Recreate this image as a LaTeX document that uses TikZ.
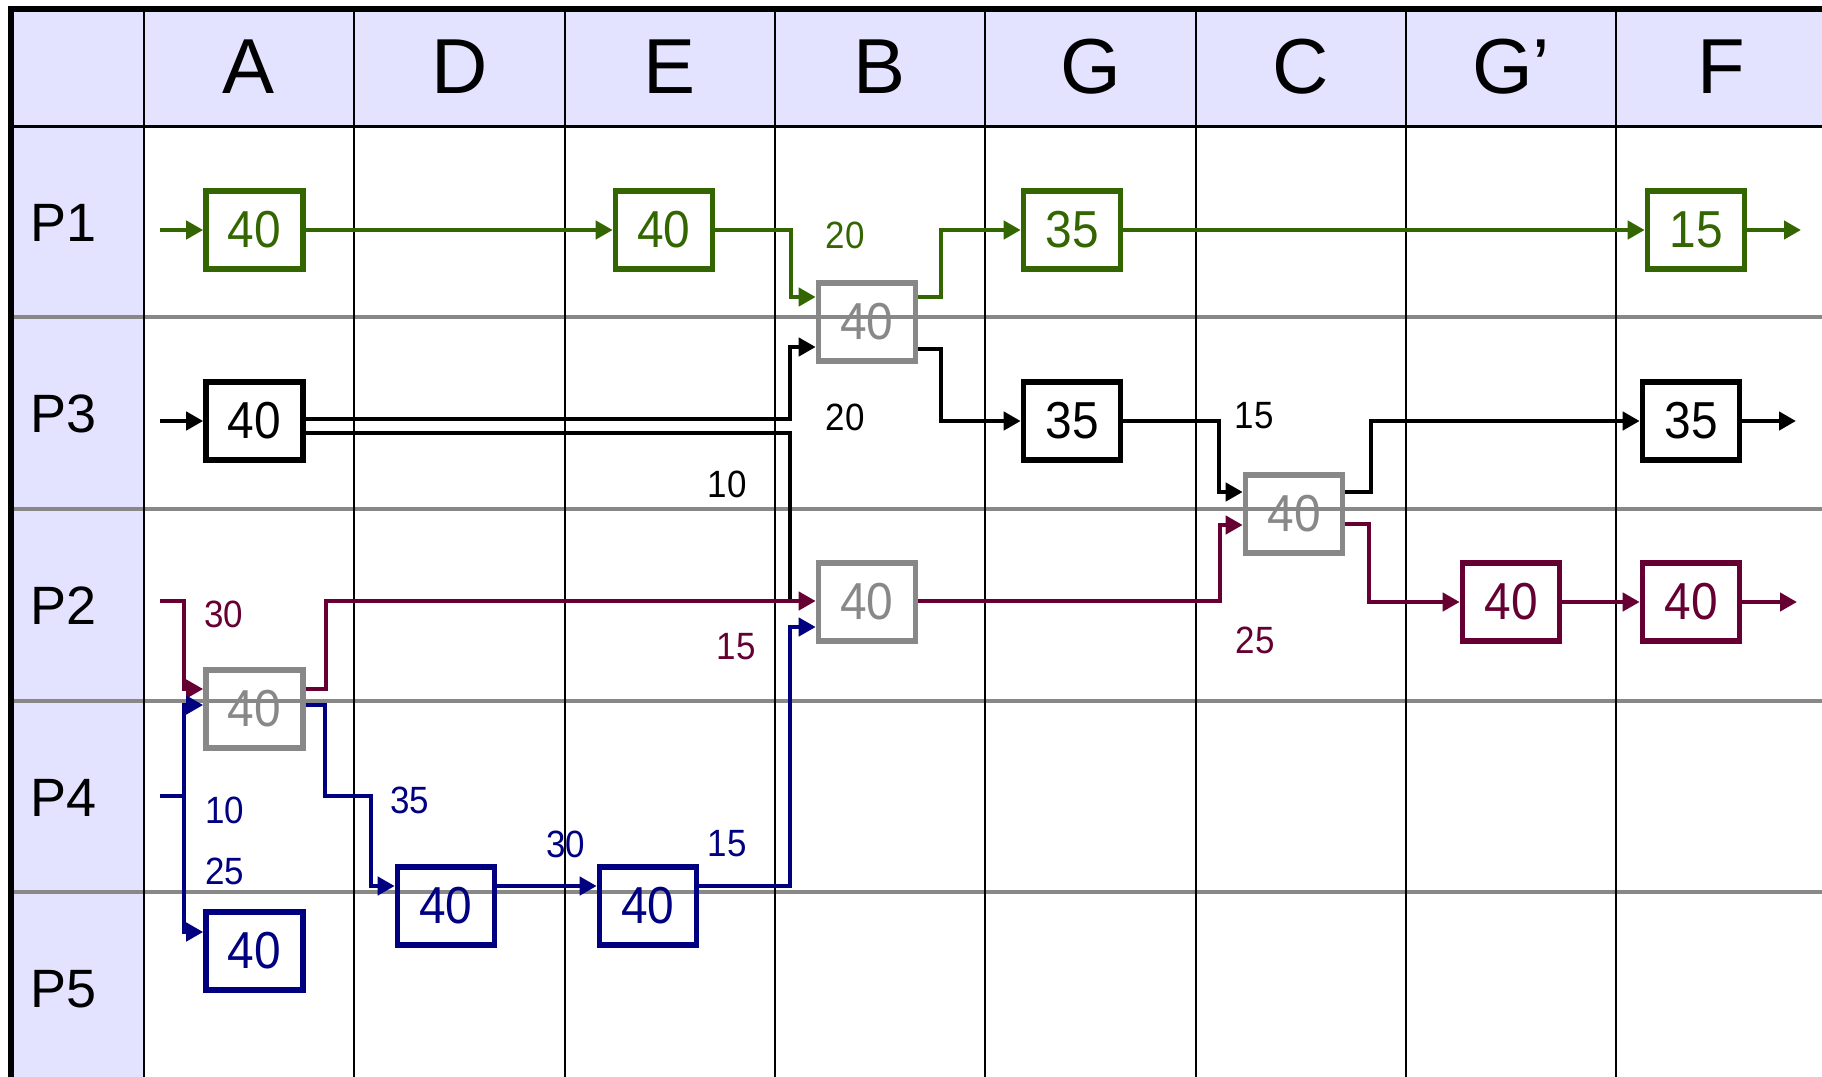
\documentclass[tikz,border=0pt]{standalone}
\usepackage{fontspec}
\setmainfont{Liberation Sans}
\newfontfamily\boxfont[FakeStretch=0.92]{Liberation Sans}
\usetikzlibrary{arrows.meta}
\definecolor{hdr}{HTML}{E3E3FF}
\definecolor{grn}{HTML}{336600}
\definecolor{mrn}{HTML}{660033}
\definecolor{blu}{HTML}{000080}
\definecolor{gry}{HTML}{888888}
\begin{document}
\begin{tikzpicture}[x=0.5pt,y=-0.5pt,
  box/.style={draw, line width=2.8pt, minimum width=48.5pt, minimum height=39pt, inner sep=0pt, font=\boxfont\fontsize{26}{30}\selectfont},
  gbox/.style={box, draw=grn, text=grn},
  kbox/.style={box, draw=black, text=black},
  mbox/.style={box, draw=mrn, text=mrn},
  bbox/.style={box, draw=blu, text=blu},
  xbox/.style={box, draw=gry, text=gry},
  conn/.style={line width=2.4pt},
  arr/.style={conn, -{Triangle[length=8.5pt,width=9pt]}},
  lbl/.style={font=\boxfont\fontsize{19}{23}\selectfont, inner sep=0pt},
  hd/.style={font=\fontsize{39}{45}\selectfont, inner sep=0pt},
  rl/.style={font=\fontsize{27}{31}\selectfont, inner sep=0pt, anchor=west},
]
\useasboundingbox (0,0) rectangle (1822,1077);
% backgrounds
\fill[hdr] (11,9) rectangle (1822,126);
\fill[hdr] (11,126) rectangle (144,1077);
% row lines (gray)
\foreach \yy in {317,509,701,892} \draw[gry, line width=1.6pt] (11,\yy) -- (1822,\yy);
% column lines
\foreach \xx in {144,354,565,775,985,1196,1406,1616} \draw[black, line width=1.2pt] (\xx,9) -- (\xx,1077);
% header bottom line
\draw[black, line width=1.5pt] (11,126) -- (1822,126);
% outer borders
\draw[black, line width=3pt] (8,9) -- (1822,9);
\draw[black, line width=3pt] (11,7) -- (11,1077);
% headers
\node[hd] (hA) at (249,67) {A};
\node[hd] (hD) at (459.5,67) {D};
\node[hd] (hE) at (670,67) {E};
\node[hd] (hB) at (880,67) {B};
\node[hd] (hG) at (1090.5,67) {G};
\node[hd] (hC) at (1301,67) {C};
\node[hd] (hGp) at (1511,67) {G’};
\node[hd] (hF) at (1721,67) {F};
% row labels
\node[rl] (r1) at (30,223) {P1};
\node[rl] (r3) at (30,414) {P3};
\node[rl] (r2) at (30,606) {P2};
\node[rl] (r4) at (30,798) {P4};
\node[rl] (r5) at (30,989) {P5};
% boxes
\node[gbox] (b1) at (254.5,230) {40};
\node[gbox] (b2) at (664,230) {40};
\node[xbox] (b3) at (867,322) {40};
\node[gbox] (b4) at (1072,230) {35};
\node[gbox] (b5) at (1696,230) {15};
\node[kbox] (b6) at (254.5,421) {40};
\node[kbox] (b7) at (1072,421) {35};
\node[xbox] (b8) at (1294,514) {40};
\node[kbox] (b9) at (1691,421) {35};
\node[xbox] (b10) at (867,602) {40};
\node[mbox] (b11) at (1511,602) {40};
\node[mbox] (b12) at (1691,602) {40};
\node[xbox] (b13) at (254.5,709) {40};
\node[bbox] (b14) at (446,906) {40};
\node[bbox] (b15) at (648,906) {40};
\node[bbox] (b16) at (254.5,951) {40};
% free ends
\coordinate (inG) at (160,230);
\coordinate (outG) at (1801,230);
\coordinate (inK) at (160,421);
\coordinate (outK) at (1796,421);
\coordinate (inM) at (160,601);
\coordinate (outM) at (1797,602);
\coordinate (inB) at (160,796);
\coordinate (jB) at (184,796);
% green
\draw[grn, arr] (inG) -- (b1.west);
\draw[grn, arr] (b1.east) -- (b2.west);
\draw[grn, arr] (b2.east) -- (791,230) -- (791,297) -- (b3.west |- 0,297);
\draw[grn, arr] (b3.east |- 0,297) -- (941,297) -- (941,230) -- (b4.west);
\draw[grn, arr] (b4.east) -- (b5.west);
\draw[grn, arr] (b5.east) -- (outG);
% black
\draw[black, arr] (inK) -- (b6.west);
\draw[black, arr] (b6.east |- 0,419) -- (790,419) -- (790,347) -- (b3.west |- 0,347);
\draw[black, conn] (b6.east |- 0,433) -- (790,433) -- (790,601);
\draw[black, arr] (b3.east |- 0,349) -- (941,349) -- (941,421) -- (b7.west);
\draw[black, arr] (b7.east) -- (1219,421) -- (1219,492) -- (b8.west |- 0,492);
\draw[black, arr] (b8.east |- 0,492) -- (1371,492) -- (1371,421) -- (b9.west);
\draw[black, arr] (b9.east) -- (outK);
% maroon
\draw[mrn, arr] (inM) -- (184,601) -- (184,689) -- (b13.west |- 0,689);
\draw[mrn, arr] (b13.east |- 0,689) -- (326,689) -- (326,601) -- (b10.west |- 0,601);
\draw[mrn, arr] (b10.east |- 0,601) -- (1220,601) -- (1220,525) -- (b8.west |- 0,525);
\draw[mrn, arr] (b8.east |- 0,524) -- (1369,524) -- (1369,602) -- (b11.west);
\draw[mrn, arr] (b11.east) -- (b12.west);
\draw[mrn, arr] (b12.east) -- (outM);
% blue
\draw[blu, conn] (inB) -- (jB);
\draw[blu, arr] (jB) |- (b13.west |- 0,705);
\draw[blu, arr] (jB) |- (b16.west |- 0,932);
\draw[blu, arr] (b13.east |- 0,705) -- (325,705) -- (325,796) -- (371,796) -- (371,886) -- (b14.west |- 0,886);
\draw[blu, arr] (b14.east |- 0,886) -- (b15.west |- 0,886);
\draw[blu, arr] (b15.east |- 0,886) -- (790,886) -- (790,627) -- (b10.west |- 0,627);
% labels
\node[lbl, text=grn] (lg20) at (845,235) {20};
\node[lbl] (lk20) at (845,417) {20};
\node[lbl] (lk10) at (727,484) {10};
\node[lbl] (lk15) at (1254,416) {15};
\node[lbl, text=mrn] (lm30) at (224,614) {30};
\node[lbl, text=mrn] (lm15) at (736,647) {15};
\node[lbl, text=mrn] (lm25) at (1255,640) {25};
\node[lbl, text=blu] (lb10) at (225,810) {10};
\node[lbl, text=blu] (lb25) at (225,871) {25};
\node[lbl, text=blu] (lb35) at (410,800) {35};
\node[lbl, text=blu] (lb30) at (566,844) {30};
\node[lbl, text=blu] (lb15) at (727,844) {15};
\end{tikzpicture}
\end{document}
